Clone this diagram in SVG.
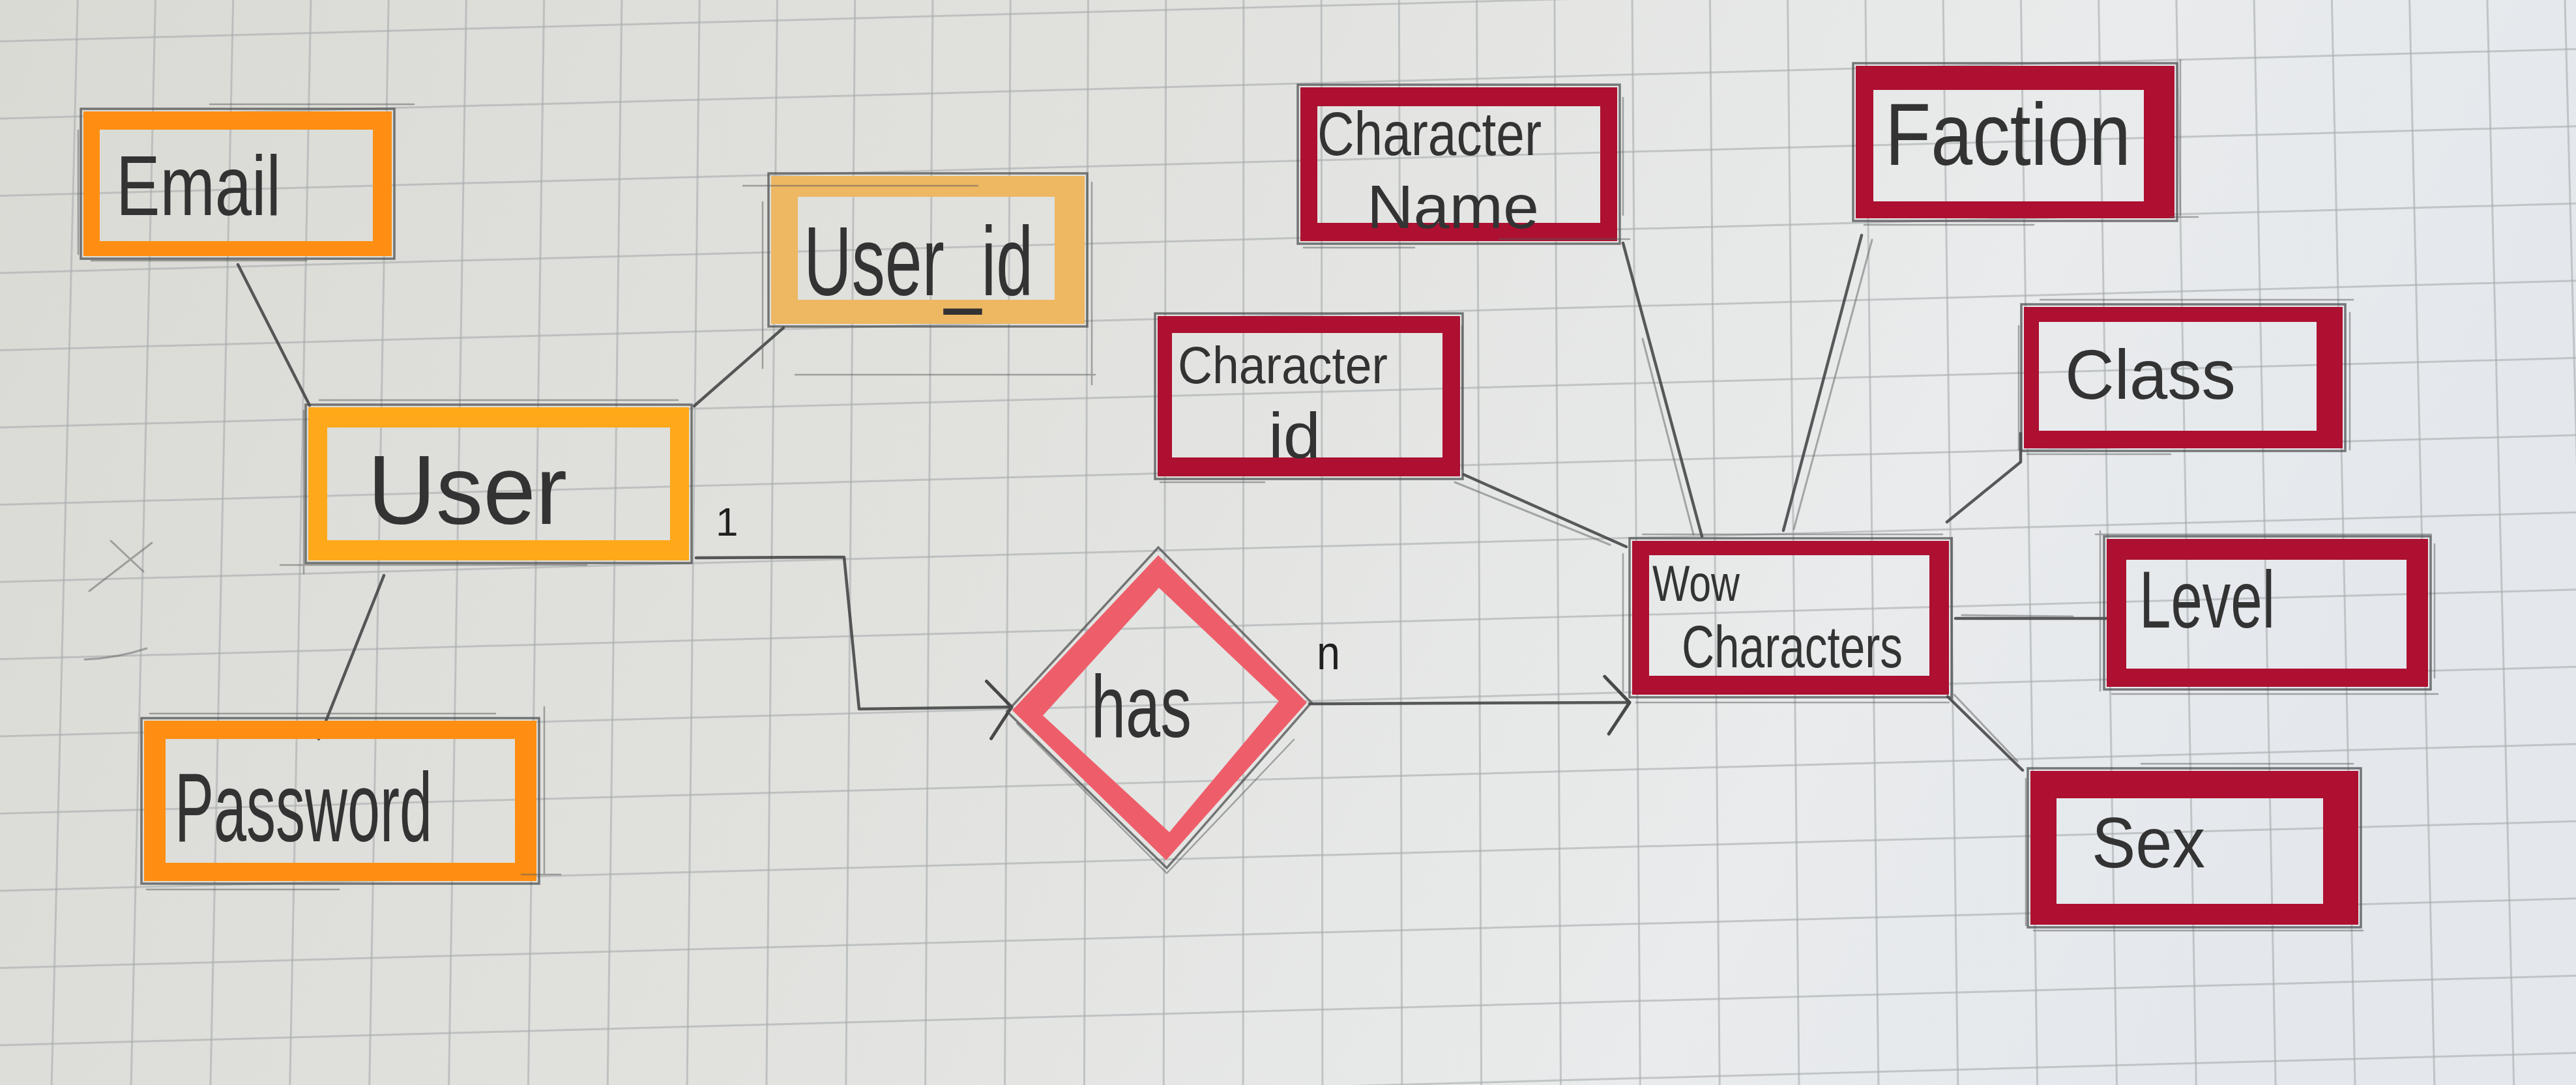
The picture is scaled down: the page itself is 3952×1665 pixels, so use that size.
<svg xmlns="http://www.w3.org/2000/svg" width="3952" height="1665" viewBox="0 0 3952 1665">
<defs>
<linearGradient id="paperGrad" x1="0" y1="0" x2="1" y2="0.2">
<stop offset="0" stop-color="#dadad5"/>
<stop offset="0.45" stop-color="#e1e2de"/>
<stop offset="0.8" stop-color="#e9ebec"/>
<stop offset="1" stop-color="#e4e8ed"/>
</linearGradient>
<marker id="chev" markerUnits="userSpaceOnUse" viewBox="-50 -60 60 120" refX="0" refY="0" markerWidth="60" markerHeight="120" orient="auto">
<path d="M-38 -40 L0 0 L-32 48" fill="none" stroke="#2e2e2e" stroke-width="5" stroke-linecap="round" stroke-linejoin="round"/>
</marker>
<style>
.grid{fill:none;stroke:#a7abae;stroke-width:3;opacity:0.6}
.pencil{fill:none;stroke:#4e4f50;stroke-width:3.5;opacity:0.75;stroke-linecap:round}
.pencil2{fill:none;stroke:#5a5b5c;stroke-width:2.5;opacity:0.5;stroke-linecap:round}
.conn{fill:none;stroke:#3d3e3f;stroke-width:4.5;stroke-linecap:round;stroke-linejoin:round;opacity:0.85}
.conn2{fill:none;stroke:#6a6b6c;stroke-width:3;stroke-linecap:round;opacity:0.55}
.mk{fill-rule:evenodd}
.orange{fill:#ff8e12}
.yellow{fill:#ffa81a}
.tan{fill:#eeb762}
.pink{fill:#ee5e6a}
.red{fill:#ad1030}
.t{font-family:"Liberation Sans",Arial,sans-serif;fill:#333333}
.card{font-family:"Liberation Sans",Arial,sans-serif;fill:#1f1f1f}
</style>
</defs>

<rect class="paper" x="0" y="0" width="3952" height="1665" fill="url(#paperGrad)"/>

<path class="grid" d="M119.2 0 L79.2 1665 M238.4 0 L201.1 1665 M357.7 0 L322.9 1665 M476.9 0 L444.8 1665 M596.2 0 L566.7 1665 M715.4 0 L688.5 1665 M834.7 0 L810.4 1665 M953.9 0 L932.2 1665 M1073.2 0 L1054.1 1665 M1192.4 0 L1175.9 1665 M1311.7 0 L1297.8 1665 M1430.9 0 L1419.6 1665 M1550.2 0 L1541.5 1665 M1669.4 0 L1663.4 1665 M1788.7 0 L1785.2 1665 M1907.9 0 L1907.1 1665 M2027.2 0 L2028.9 1665 M2146.4 0 L2150.8 1665 M2265.6 0 L2272.6 1665 M2384.9 0 L2394.5 1665 M2504.1 0 L2516.3 1665 M2623.4 0 L2638.2 1665 M2742.6 0 L2760 1665 M2861.9 0 L2881.9 1665 M2981.1 0 L3003.8 1665 M3100.4 0 L3125.6 1665 M3219.6 0 L3247.5 1665 M3338.9 0 L3369.3 1665 M3458.1 0 L3491.2 1665 M3577.4 0 L3613 1665 M3696.6 0 L3734.9 1665 M3815.9 0 L3856.7 1665 M3935 0 L3978 1665"/>
<path class="grid" d="M0 63.5 L3952 -43.2 M0 182 L3952 75.3 M0 300.5 L3952 193.8 M0 419 L3952 312.3 M0 537.5 L3952 430.8 M0 656 L3952 549.3 M0 774.5 L3952 667.8 M0 893 L3952 786.3 M0 1011.5 L3952 904.8 M0 1130 L3952 1023.3 M0 1248.5 L3952 1141.8 M0 1367 L3952 1260.3 M0 1485.5 L3952 1378.8 M0 1604 L3952 1497.3 M0 1722.5 L3952 1615.8"/>

<g id="stray-marks">
<path class="conn2" d="M170 830 L220 877 M233 833 L137 907 M130 1012 Q180 1010 225 995"/>
</g>

<g id="connectors">
<path class="conn" d="M365 406 L475 622"/>
<path class="conn" d="M1202 503 L1065 623"/>
<path class="conn" d="M589 883 L489 1134"/>
<path class="conn" d="M1068 856 L1295 855 L1318 1088 L1552 1085" marker-end="url(#chev)"/>
<path class="conn" d="M2009 1080 L2500 1078" marker-end="url(#chev)"/>
<path class="conn" d="M2245 728 L2495 839"/>
<path class="conn2" d="M2232 740 L2470 836"/>
<path class="conn" d="M2490 373 L2611 823"/>
<path class="conn2" d="M2520 520 L2598 820"/>
<path class="conn" d="M2856 361 L2736 814"/>
<path class="conn2" d="M2872 368 L2752 812"/>
<path class="conn" d="M3100 665 L3100 709 L2987 801"/>
<path class="conn" d="M3000 949 L3233 949"/>
<path class="conn2" d="M3010 944 L3180 946"/>
<path class="conn" d="M2988 1069 L3103 1182"/>
<path class="conn2" d="M2998 1066 L3095 1168"/>
<text class="card" x="1098" y="822" font-size="62">1</text>
<text class="card" x="2020" y="1027" font-size="75" textLength="36" lengthAdjust="spacingAndGlyphs">n</text>
</g>

<g id="node-email">
<path class="mk orange" d="M128 171 H601 V393 H128 Z M153 199 V370 H572 V199 Z"/>
<rect class="pencil" x="124" y="167" width="481" height="230"/>
<path class="pencil2" d="M322 160 H635 M120 200 V390 M470 400 H140"/>
<text class="t" x="178" y="330" font-size="130" textLength="253" lengthAdjust="spacingAndGlyphs">Email</text>
</g>

<g id="node-user">
<path class="mk yellow" d="M473 625 H1057 V860 H473 Z M502 656 V829 H1028 V656 Z"/>
<rect class="pencil" x="469" y="621" width="592" height="243"/>
<path class="pencil2" d="M430 867 H900 M466 630 V880 M490 614 H1040"/>
<text class="t" x="564" y="804" font-size="150" textLength="306" lengthAdjust="spacingAndGlyphs">User</text>
</g>

<g id="node-user-id">
<path class="mk tan" d="M1183 270 H1664 V497 H1183 Z M1224 302 V460 H1618 V302 Z"/>
<rect class="pencil" x="1179" y="266" width="489" height="235"/>
<path class="pencil2" d="M1140 285 H1500 M1170 310 V565 M1220 575 H1680 M1675 280 V590"/>
<text class="t" x="1233" y="453" font-size="150" textLength="352" lengthAdjust="spacingAndGlyphs">User_id</text>
</g>

<g id="node-password">
<path class="mk orange" d="M221 1106 H823 V1352 H221 Z M254 1134 V1324 H790 V1134 Z"/>
<rect class="pencil" x="217" y="1102" width="610" height="254"/>
<path class="pencil2" d="M230 1095 H760 M835 1085 V1340 M225 1365 H520 M800 1342 H860"/>
<text class="t" x="268" y="1291" font-size="150" textLength="395" lengthAdjust="spacingAndGlyphs">Password</text>
</g>

<g id="node-has">
<path class="mk pink" d="M1553 1090 L1777 852 L2005 1078 L1789 1320 Z M1600 1098 L1778 902 L1962 1076 L1794 1277 Z"/>
<path class="pencil" d="M1545 1092 L1777 840 L2012 1078 L1790 1332 Z"/>
<path class="pencil2" d="M1560 1110 L1790 1340 M1790 1340 L1985 1135"/>
<text class="t" x="1674" y="1131" font-size="135" textLength="154" lengthAdjust="spacingAndGlyphs">has</text>
</g>

<g id="node-wow-characters">
<path class="mk red" d="M2504 830 H2990 V1066 H2504 Z M2530 852 V1037 H2960 V852 Z"/>
<rect class="pencil" x="2500" y="826" width="494" height="244"/>
<path class="pencil2" d="M2490 850 V1060 M2520 820 H2980 M2995 825 V1075 M2510 1078 H2990"/>
<text class="t" x="2535" y="922" font-size="78" textLength="134" lengthAdjust="spacingAndGlyphs">Wow</text>
<text class="t" x="2580" y="1024" font-size="90" textLength="339" lengthAdjust="spacingAndGlyphs">Characters</text>
</g>

<g id="node-character-name">
<path class="mk red" d="M1995 134 H2481 V370 H1995 Z M2021 163 V342 H2455 V163 Z"/>
<rect class="pencil" x="1991" y="130" width="494" height="244"/>
<path class="pencil2" d="M2490 150 V330 M2000 380 H2170 M2300 367 H2500"/>
<text class="t" x="2021" y="238" font-size="95" textLength="344" lengthAdjust="spacingAndGlyphs">Character</text>
<text class="t" x="2097" y="350" font-size="95" textLength="264" lengthAdjust="spacingAndGlyphs">Name</text>
</g>

<g id="node-character-id">
<path class="mk red" d="M1776 485 H2240 V731 H1776 Z M1798 511 V702 H2213 V511 Z"/>
<rect class="pencil" x="1772" y="481" width="472" height="254"/>
<path class="pencil2" d="M2243 500 V720 M1780 740 H1940"/>
<text class="t" x="1807" y="588" font-size="80" textLength="322" lengthAdjust="spacingAndGlyphs">Character</text>
<text class="t" x="1946" y="702" font-size="98" textLength="80" lengthAdjust="spacingAndGlyphs">id</text>
</g>

<g id="node-faction">
<path class="mk red" d="M2847 101 H3336 V335 H2847 Z M2874 138 V309 H3289 V138 Z"/>
<rect class="pencil" x="2843" y="97" width="497" height="242"/>
<path class="pencil2" d="M3345 92 V330 M2860 345 H3120 M3330 333 H3372"/>
<text class="t" x="2892" y="253" font-size="135" textLength="377" lengthAdjust="spacingAndGlyphs">Faction</text>
</g>

<g id="node-class">
<path class="mk red" d="M3105 471 H3594 V688 H3105 Z M3128 494 V661 H3554 V494 Z"/>
<rect class="pencil" x="3101" y="467" width="497" height="225"/>
<path class="pencil2" d="M3130 460 H3610 M3605 480 V690 M3110 697 H3330 M3097 500 V690"/>
<text class="t" x="3168" y="612" font-size="108" textLength="262" lengthAdjust="spacingAndGlyphs">Class</text>
</g>

<g id="node-level">
<path class="mk red" d="M3232 827 H3725 V1054 H3232 Z M3262 859 V1026 H3692 V859 Z"/>
<rect class="pencil" x="3228" y="823" width="501" height="235"/>
<path class="pencil2" d="M3222 815 V1060 M3215 820 H3730 M3735 835 V1040 M3240 1065 H3740"/>
<text class="t" x="3282" y="963" font-size="125" textLength="208" lengthAdjust="spacingAndGlyphs">Level</text>
</g>

<g id="node-sex">
<path class="mk red" d="M3115 1183 H3618 V1419 H3115 Z M3155 1225 V1387 H3564 V1225 Z"/>
<rect class="pencil" x="3111" y="1179" width="511" height="244"/>
<path class="pencil2" d="M3285 1172 H3610 M3108 1195 V1420 M3120 1428 H3625"/>
<text class="t" x="3209" y="1331" font-size="110" textLength="174" lengthAdjust="spacingAndGlyphs">Sex</text>
</g>
</svg>
